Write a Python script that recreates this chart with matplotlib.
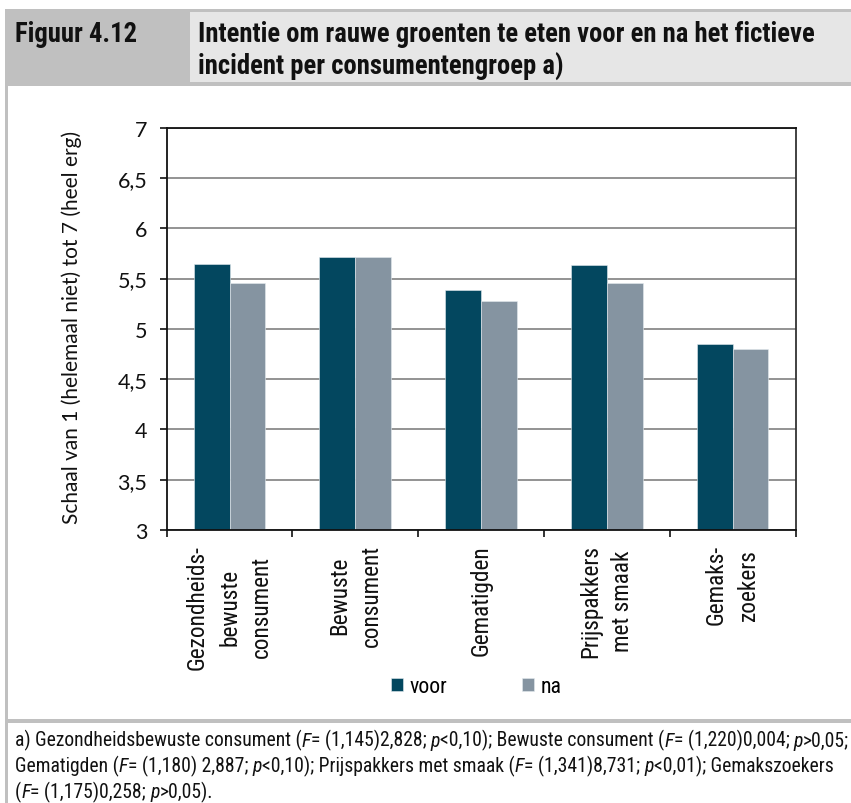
import matplotlib
matplotlib.use("Agg")
import matplotlib.pyplot as plt
from matplotlib import font_manager
from matplotlib.font_manager import FontProperties
from matplotlib.patches import Rectangle
import numpy as np

# ---------------- data ----------------
categories = ["Gezondheids-\nbewuste\nconsument", "Bewuste\nconsument", "Gematigden",
              "Prijspakkers\nmet smaak", "Gemaks-\nzoekers"]
voor = [5.64, 5.71, 5.39, 5.63, 4.85]
na = [5.46, 5.71, 5.28, 5.46, 4.80]
series_names = ["voor", "na"]
yticks = [3, 3.5, 4, 4.5, 5, 5.5, 6, 6.5, 7]
ytick_labels = ["3", "3,5", "4", "4,5", "5", "5,5", "6", "6,5", "7"]
fig_label = "Figuur 4.12"
title_lines = ["Intentie om rauwe groenten te eten voor en na het fictieve",
               "incident per consumentengroep a)"]
ylabel = "Schaal van 1 (helemaal niet) tot 7 (heel erg)"
footnote_lines = [
    [("a) Gezondheidsbewuste consument (", False), ("F", True), ("= (1,145)2,828; ", False), ("p", True),
     ("<0,10); Bewuste consument (", False), ("F", True), ("= (1,220)0,004; ", False), ("p", True), (">0,05;", False)],
    [("Gematigden (", False), ("F", True), ("= (1,180) 2,887; ", False), ("p", True),
     ("<0,10); Prijspakkers met smaak (", False), ("F", True), ("= (1,341)8,731; ", False), ("p", True),
     ("<0,01); Gemakszoekers", False)],
    [("(", False), ("F", True), ("= (1,175)0,258; ", False), ("p", True), (">0,05).", False)],
]

# ---------------- fonts ----------------
entries = font_manager.fontManager.ttflist


def has(name, weight_min=None, style=None):
    for f in entries:
        if f.name != name:
            continue
        if weight_min is not None and (not isinstance(f.weight, int) or f.weight < weight_min):
            continue
        if style is not None and f.style != style:
            continue
        return True
    return False


def pick_cond():
    for c in ["Roboto Condensed", "Liberation Sans Narrow", "Archivo Narrow", "Fira Sans Condensed",
              "IBM Plex Sans Condensed", "Encode Sans Condensed"]:
        if has(c, 700) and has(c, None, "italic"):
            return c
    return "DejaVu Sans"


def pick(cands):
    for c in cands:
        if has(c):
            return c
    return "DejaVu Sans"


cond_font = pick_cond()
chart_font = pick(["Lato", "Noto Sans", "DejaVu Sans"])

W, H = 851, 804
fig = plt.figure(figsize=(W / 100, H / 100), dpi=100)
fig.patch.set_facecolor("white")
renderer = fig.canvas.get_renderer()


def fx(px):
    return px / W


def fy(py):
    return 1 - py / H


def rect(x0, y0, x1, y1, color, z=0):
    fig.add_artist(Rectangle((fx(x0), fy(y1)), (x1 - x0) / W, (y1 - y0) / H,
                             transform=fig.transFigure, facecolor=color, edgecolor="none", zorder=z))


def text_width(s, **kw):
    t = fig.text(0, 0, s, **kw)
    w = t.get_window_extent(renderer).width
    t.remove()
    return w


def advance(s, **kw):
    return text_width(s + "|", **kw) - text_width("|", **kw)


def fit(s, target, **kw):
    return 10 * target / text_width(s, fontsize=10, **kw)


# ---------------- frame / header ----------------
GREY = "#c0c0c0"
LIGHT = "#e6e6e6"
rect(5, 10, 851, 87, GREY)
rect(190, 13, 851, 83, LIGHT, z=1)
rect(5, 10, 8, 804, GREY)
rect(5, 720, 851, 724, GREY)

title_size = fit(title_lines[0], 615, family=cond_font, weight="bold")
fig.text(fx(15), fy(42), fig_label, fontsize=title_size, family=cond_font, weight="bold",
         ha="left", va="baseline", color="#111111", zorder=3)
fig.text(fx(198), fy(42), title_lines[0], fontsize=title_size, family=cond_font, weight="bold",
         ha="left", va="baseline", color="#111111", zorder=3)
fig.text(fx(198), fy(75), title_lines[1], fontsize=title_size, family=cond_font, weight="bold",
         ha="left", va="baseline", color="#111111", zorder=3)

# ---------------- chart ----------------
C_VOOR = "#03475f"
C_NA = "#8594a1"
ax = fig.add_axes([fx(166.7), fy(531), (795.5 - 166.7) / W, (531 - 128.7) / H])
x = np.arange(len(categories))
bw = 0.285
b1 = ax.bar(x - bw / 2, voor, bw, color=C_VOOR, edgecolor="#e4ebef", linewidth=0.4, label=series_names[0], zorder=2)
b2 = ax.bar(x + bw / 2, na, bw, color=C_NA, edgecolor="#e4ebef", linewidth=0.4, label=series_names[1], zorder=2)
ax.set_ylim(3, 7)
ax.set_xlim(-0.5, len(categories) - 0.5)

tick_size = fit("6,5", 30, family=chart_font)
cat_size = fit("Gezondheids-", 124, family=cond_font)
_w, _h, _d = renderer.get_text_width_height_descent(
    "lp", FontProperties(family=cond_font, size=cat_size * 100 / 72 * 72 / 100), ismath=False)
cat_linespacing = 27.0 / (_h - _d)

ax.set_yticks(yticks)
ax.set_yticklabels(ytick_labels, family=chart_font, fontsize=tick_size, color="#111111")
ax.yaxis.grid(True, color="#939393", linewidth=1.4)
ax.set_axisbelow(True)
for s in ax.spines.values():
    s.set_linewidth(1.3)
    s.set_color("#111111")
ax.spines["right"].set_color("#333333")
ax.tick_params(axis="y", direction="out", length=5, width=1.2, pad=9, colors="#111111")
ax.set_xticks(x)
ax.set_xticklabels(categories, rotation=90, family=cond_font, fontsize=cat_size, color="#111111",
                   va="top", ha="center", multialignment="center", linespacing=cat_linespacing)
ax.set_xticks(np.arange(-0.5, len(categories)), minor=True)
ax.tick_params(axis="x", which="major", length=0, pad=10)
ax.tick_params(axis="x", which="minor", direction="out", length=5, width=1.2, color="#111111")

yl_size = fit(ylabel, 391, family=chart_font)
fig.text(fx(72), fy(327.5), ylabel, rotation=90, fontsize=yl_size, family=chart_font,
         ha="center", va="center", color="#111111")

leg_size = fit("voor", 38, family=cond_font)
ax.legend([b1, b2], series_names, loc="center", bbox_to_anchor=(fx(476), fy(688)),
          bbox_transform=fig.transFigure, ncol=2, frameon=False,
          prop={"family": cond_font, "size": leg_size}, handlelength=0.55, handleheight=0.55,
          handletextpad=0.3, columnspacing=3.4, borderaxespad=0)

# ---------------- footnote ----------------
w_line = sum(advance(seg, fontsize=10, family=cond_font, style="italic" if it else "normal")
             for seg, it in footnote_lines[0])
fn_size = 10 * 828 / w_line
baselines = [746.7, 772.5, 798.3]
for segs, yb in zip(footnote_lines, baselines):
    xp = 15
    for seg, it in segs:
        st = "italic" if it else "normal"
        fig.text(fx(xp), fy(yb), seg, fontsize=fn_size, family=cond_font, style=st,
                 ha="left", va="baseline", color="#111111")
        xp += advance(seg, fontsize=fn_size, family=cond_font, style=st)

fig.savefig("out.png", dpi=100, facecolor="white")
